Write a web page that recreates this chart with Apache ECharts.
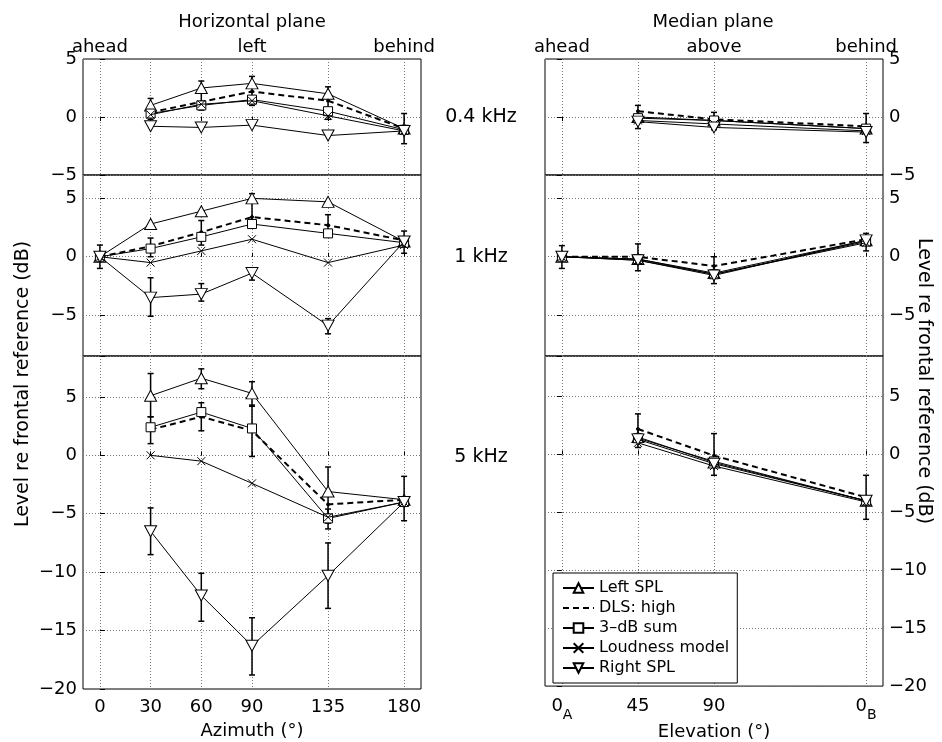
<!DOCTYPE html>
<html>
<head>
<meta charset="utf-8">
</head>
<body style="margin: 0">
<div id="container" style="width: 942px; height: 742px"></div>
<script src="https://cdn.jsdelivr.net/npm/echarts@6/dist/echarts.min.js"></script>
<script type="text/javascript">
var seriesNames = ['Left SPL', 'DLS: high', '3–dB sum', 'Loudness model', 'Right SPL'];

var azimuth = [0, 30, 60, 90, 135, 180];
var elevation = [0, 45, 90, 180];
var azTopLabels = ['ahead', 'left', 'behind'];
var elTopLabels = ['ahead', 'above', 'behind'];
var elBottomLabels = ['{n|0}{s|A}', '{n|45}', '{n|90}', '{n|0}{s|B}'];
var bandLabels = ['0.4 kHz', '1 kHz', '5 kHz'];

// rows follow seriesNames: Left SPL, DLS, 3-dB sum, Loudness, Right SPL
var hor04 = [
    [null, 1.0, 2.5, 2.9, 2.0, -1.0],
    [null, 0.4, 1.3, 2.2, 1.4, -1.0],
    [null, 0.3, 1.0, 1.5, 0.5, -1.1],
    [null, 0.2, 1.1, 1.4, 0.1, -1.2],
    [null, -0.8, -0.9, -0.7, -1.6, -1.2]
];
var hor1 = [
    [0, 2.8, 3.9, 5.0, 4.7, 1.3],
    [0, 0.9, 2.1, 3.4, 2.7, 1.4],
    [0, 0.7, 1.7, 2.8, 2.0, 1.2],
    [0, -0.5, 0.5, 1.5, -0.5, 1.0],
    [0, -3.5, -3.2, -1.4, -5.9, 1.3]
];
var hor5 = [
    [null, 5.1, 6.6, 5.3, -3.1, -3.8],
    [null, 2.2, 3.3, 2.1, -4.2, -3.8],
    [null, 2.4, 3.7, 2.3, -5.4, -4.0],
    [null, 0.0, -0.5, -2.4, -5.3, -4.0],
    [null, -6.5, -12.0, -16.3, -10.3, -4.0]
];
var med04 = [
    [null, 0.0, -0.3, -1.0],
    [null, 0.5, -0.2, -0.8],
    [null, -0.1, -0.3, -1.0],
    [null, -0.3, -0.6, -1.2],
    [null, -0.4, -0.9, -1.3]
];
var med1 = [
    [0, -0.2, -1.4, 1.4],
    [0, 0.0, -0.8, 1.5],
    [0, -0.2, -1.5, 1.3],
    [0, -0.3, -1.5, 1.2],
    [0, -0.3, -1.6, 1.4]
];
var med5 = [
    [null, 1.5, -0.7, -4.0],
    [null, 2.2, -0.1, -3.7],
    [null, 1.4, -0.6, -4.0],
    [null, 1.0, -1.0, -4.1],
    [null, 1.3, -0.8, -4.0]
];

// error bars: [angle, low, high]
var hor04Err = [[30, -0.2, 1.6], [60, 0.6, 3.1], [90, 1.0, 3.5], [135, -0.2, 2.6], [180, -2.3, 0.3]];
var hor1Err = [[0, -1.0, 1.0], [30, -5.1, -1.8], [30, 0.0, 1.6], [60, -3.8, -2.3], [60, 1.0, 3.1],
    [90, 2.8, 5.4], [90, -2.0, -1.0], [135, 1.7, 3.6], [135, -6.6, -5.3], [180, 0.3, 2.2]];
var hor5Err = [[30, 3.3, 7.0], [30, 1.0, 3.3], [30, -8.5, -4.5], [60, 5.7, 7.4], [60, 2.1, 4.5],
    [60, -14.2, -10.1], [90, 4.2, 6.3], [90, -0.1, 4.3], [90, -18.8, -13.9], [135, -5.8, -1.0],
    [135, -6.3, -4.6], [135, -13.1, -7.5], [180, -5.6, -1.8]];
var med04Err = [[45, -1.0, 1.0], [90, -1.1, 0.4], [180, -2.2, 0.3]];
var med1Err = [[0, -1.0, 0.95], [45, -1.2, 1.1], [90, -2.3, 0.0], [180, 0.5, 2.0]];
var med5Err = [[45, 0.6, 3.5], [90, -1.8, 1.8], [180, -5.6, -1.8]];

var FONT = 'DejaVu Sans';
var colLeft = [83, 545];
var plotWidth = 338;
var rowTop = [59, 175, 356];
var rowHeight = [116, 181, 333];
var rowRange = [[-5, 5], [-8.5, 7], [-20, 8.5]];
var rowSplit = [2, 3, 6];

var panels = [
    {x: azimuth, rows: hor04, err: hor04Err}, {x: elevation, rows: med04, err: med04Err},
    {x: azimuth, rows: hor1, err: hor1Err}, {x: elevation, rows: med1, err: med1Err},
    {x: azimuth, rows: hor5, err: hor5Err}, {x: elevation, rows: med5, err: med5Err}
];

var markers = [
    {symbol: 'triangle', size: [12, 11], rotate: 0, fill: '#fff', line: {width: 1, type: 'solid'}},
    {symbol: 'circle', size: 3, rotate: 0, fill: '#000', line: {width: 2, type: [6, 4]}},
    {symbol: 'rect', size: 9, rotate: 0, fill: '#fff', line: {width: 1, type: 'solid'}},
    {symbol: 'path://M0,0L10,10M0,10L10,0', size: 8, rotate: 0, fill: '#fff', line: {width: 1, type: 'solid'}},
    {symbol: 'triangle', size: [12, 11], rotate: 180, fill: '#fff', line: {width: 1, type: 'solid'}}
];

function minus(v) { return String(v).replace('-', '\u2212'); }

function renderErr(params, api) {
    var x = api.value(0);
    var lo = api.coord([x, api.value(1)]);
    var hi = api.coord([x, api.value(2)]);
    var w = 3;
    var st = {stroke: '#000', lineWidth: 1.5};
    return {
        type: 'group',
        children: [
            {type: 'line', shape: {x1: lo[0], y1: lo[1], x2: hi[0], y2: hi[1]}, style: st},
            {type: 'line', shape: {x1: lo[0] - w, y1: lo[1], x2: lo[0] + w, y2: lo[1]}, style: st},
            {type: 'line', shape: {x1: hi[0] - w, y1: hi[1], x2: hi[0] + w, y2: hi[1]}, style: st}
        ]
    };
}

var grids = [], xAxes = [], yAxes = [], series = [];
var gridLineStyle = {color: '#777', width: 1, type: [1, 2]};

panels.forEach(function (p, i) {
    var row = Math.floor(i / 2), col = i % 2;
    grids.push({
        left: colLeft[col], top: rowTop[row], width: plotWidth, height: rowHeight[row],
        show: true, borderColor: '#000', borderWidth: 1, backgroundColor: 'transparent'
    });
    var topWords = col === 0 ? azTopLabels : elTopLabels;
    var xa = {
        gridIndex: i, type: 'value', min: -10, max: 190,
        position: row === 0 ? 'top' : 'bottom',
        axisLine: {show: false},
        axisTick: {show: true, inside: true, length: 4, customValues: p.x, lineStyle: {color: '#000'}},
        splitLine: {show: true, lineStyle: gridLineStyle},
        axisLabel: {
            show: row !== 1,
            customValues: row === 0 ? [0, 90, 180] : p.x,
            margin: row === 0 ? 3 : 9,
            color: '#000', fontFamily: FONT, fontSize: 18,
            formatter: function (v) {
                if (row === 0) return topWords[[0, 90, 180].indexOf(v)];
                if (col === 1) return elBottomLabels[elevation.indexOf(v)];
                return String(v);
            },
            rich: {
                n: {fontFamily: FONT, fontSize: 18, color: '#000', verticalAlign: 'top', lineHeight: 20, padding: [2, 0, 0, 0]},
                s: {fontFamily: FONT, fontSize: 14, color: '#000', verticalAlign: 'top', lineHeight: 14, padding: [13, 0, 0, 0]}
            }
        }
    };
    if (row === 2) {
        xa.axisLabel.verticalAlign = 'top';
        xa.name = col === 0 ? 'Azimuth (°)' : 'Elevation (°)';
        xa.nameLocation = 'middle';
        xa.nameGap = col === 0 ? 33 : 30;
        xa.nameTextStyle = {color: '#000', fontFamily: FONT, fontSize: 18};
    }
    xAxes.push(xa);
    yAxes.push({
        gridIndex: i, type: 'value', min: rowRange[row][0], max: rowRange[row][1],
        splitNumber: rowSplit[row],
        position: col === 0 ? 'left' : 'right',
        axisLine: {show: false},
        axisTick: {show: true, inside: true, length: 5, lineStyle: {color: '#000'}},
        splitLine: {show: true, lineStyle: gridLineStyle},
        axisLabel: {
            margin: 6, color: '#000', fontFamily: FONT, fontSize: 18,
            formatter: function (v) { return v % 5 === 0 ? minus(v) : ''; }
        }
    });
    p.rows.forEach(function (vals, k) {
        var m = markers[k];
        series.push({
            name: seriesNames[k], type: 'line', xAxisIndex: i, yAxisIndex: i,
            data: p.x.map(function (x, j) { return [x, vals[j]]; }),
            symbol: m.symbol, symbolSize: m.size, symbolRotate: m.rotate,
            showAllSymbol: true, animation: false, z: 3 + k,
            lineStyle: {color: '#000', width: m.line.width, type: m.line.type},
            itemStyle: {color: m.fill, borderColor: '#000', borderWidth: 1}
        });
    });
    series.push({
        name: 'errorbar', type: 'custom', xAxisIndex: i, yAxisIndex: i,
        renderItem: renderErr, data: p.err, encode: {x: 0, y: [1, 2]},
        animation: false, z: 2, silent: true
    });
});

var graphics = [
    {type: 'text', x: 252, y: 22, style: {text: 'Horizontal plane', font: '18px ' + FONT, fill: '#000', textAlign: 'center', textVerticalAlign: 'middle'}},
    {type: 'text', x: 713, y: 22, style: {text: 'Median plane', font: '18px ' + FONT, fill: '#000', textAlign: 'center', textVerticalAlign: 'middle'}},
    {type: 'text', x: 23, y: 384, rotation: Math.PI / 2, style: {text: 'Level re frontal reference (dB)', font: '19px ' + FONT, fill: '#000', textAlign: 'center', textVerticalAlign: 'middle'}},
    {type: 'text', x: 924, y: 381, rotation: -Math.PI / 2, style: {text: 'Level re frontal reference (dB)', font: '19px ' + FONT, fill: '#000', textAlign: 'center', textVerticalAlign: 'middle'}}
];
var bandY = [117, 257, 457];
bandLabels.forEach(function (t, r) {
    graphics.push({type: 'text', x: 481, y: bandY[r], style: {text: t, font: '19px ' + FONT, fill: '#000', textAlign: 'center', textVerticalAlign: 'middle'}});
});

var legendItems = seriesNames.map(function (n, k) {
    // the dashed DLS entry shows only its line in the key
    return k === 1 ? {name: n, itemStyle: {color: 'transparent', borderColor: 'transparent'}} : {name: n};
});

var myChart = echarts.init(document.getElementById('container'));
var option = {
    backgroundColor: '#fff',
    animation: false,
    grid: grids,
    xAxis: xAxes,
    yAxis: yAxes,
    legend: {
        data: legendItems, orient: 'vertical', left: 553, top: 573,
        backgroundColor: '#fff', borderColor: '#000', borderWidth: 1,
        padding: [7, 8, 7, 9], itemWidth: 31, itemHeight: 12, itemGap: 4,
        textStyle: {color: '#000', fontFamily: FONT, fontSize: 16},
        selectedMode: false, z: 10
    },
    graphic: graphics,
    series: series
};
myChart.setOption(option);
</script>
</body>
</html>
